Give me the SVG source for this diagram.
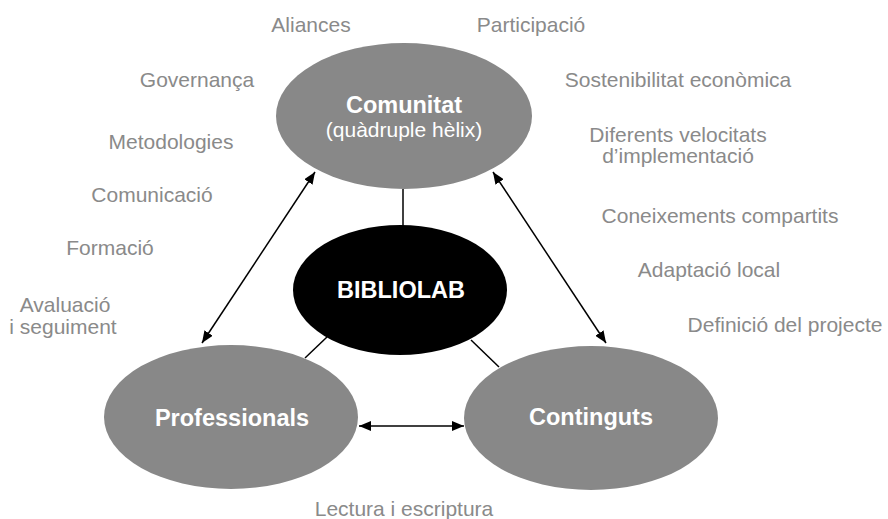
<svg xmlns="http://www.w3.org/2000/svg" width="888" height="519" viewBox="0 0 888 519">
<style>
.lbl{font-family:"Liberation Sans",Arial,sans-serif;font-size:21px;fill:#8a8a8a;text-anchor:middle}
.nt{font-family:"Liberation Sans",Arial,sans-serif;font-size:21px;fill:#ffffff;text-anchor:middle}
.b{font-weight:bold;font-size:23.5px}
.node{fill:#888888}
.ln{stroke:#000;stroke-width:1.5;fill:none}
</style>
<defs>
<marker id="ah" viewBox="0 0 12 10" refX="12" refY="5" markerWidth="12" markerHeight="10" markerUnits="userSpaceOnUse" orient="auto-start-reverse">
<path d="M0,0 L12,5 L0,10 z" fill="#000"/>
</marker>
</defs>
<rect width="888" height="519" fill="#fff"/>
<g id="connectors">
<line class="ln" x1="403" y1="189" x2="403" y2="226"/>
<line class="ln" x1="327" y1="337" x2="305" y2="358"/>
<line class="ln" x1="471" y1="340" x2="499" y2="367"/>
<line class="ln" x1="315" y1="172" x2="202" y2="343" marker-start="url(#ah)" marker-end="url(#ah)"/>
<line class="ln" x1="493" y1="172" x2="606" y2="343" marker-start="url(#ah)" marker-end="url(#ah)"/>
<line class="ln" x1="359" y1="426" x2="464" y2="426" marker-start="url(#ah)" marker-end="url(#ah)"/>
</g>
<g id="comunitat">
<ellipse class="node" cx="404" cy="116" rx="128" ry="73"/>
<text class="nt b" x="404" y="113">Comunitat</text>
<text class="nt" x="404" y="137">(quàdruple hèlix)</text>
</g>
<g id="bibliolab">
<ellipse cx="400" cy="290" rx="107" ry="65" fill="#000"/>
<text class="nt b" x="401" y="298">BIBLIOLAB</text>
</g>
<g id="professionals">
<ellipse class="node" cx="231" cy="417" rx="127" ry="72"/>
<text class="nt b" x="232" y="426">Professionals</text>
</g>
<g id="continguts">
<ellipse class="node" cx="591" cy="418" rx="127" ry="72"/>
<text class="nt b" x="591" y="425">Continguts</text>
</g>
<g id="labels">
<text class="lbl" x="311" y="32">Aliances</text>
<text class="lbl" x="531" y="32">Participació</text>
<text class="lbl" x="197" y="87">Governança</text>
<text class="lbl" x="678" y="87">Sostenibilitat econòmica</text>
<text class="lbl" x="171" y="149">Metodologies</text>
<text class="lbl" x="678" y="142">Diferents velocitats</text>
<text class="lbl" x="678" y="163">d’implementació</text>
<text class="lbl" x="152" y="202">Comunicació</text>
<text class="lbl" x="720" y="223">Coneixements compartits</text>
<text class="lbl" x="110" y="255">Formació</text>
<text class="lbl" x="709" y="277">Adaptació local</text>
<text class="lbl" x="65" y="312">Avaluació</text>
<text class="lbl" x="63" y="334">i seguiment</text>
<text class="lbl" x="785" y="332">Definició del projecte</text>
<text class="lbl" x="404" y="516">Lectura i escriptura</text>
</g>
</svg>
